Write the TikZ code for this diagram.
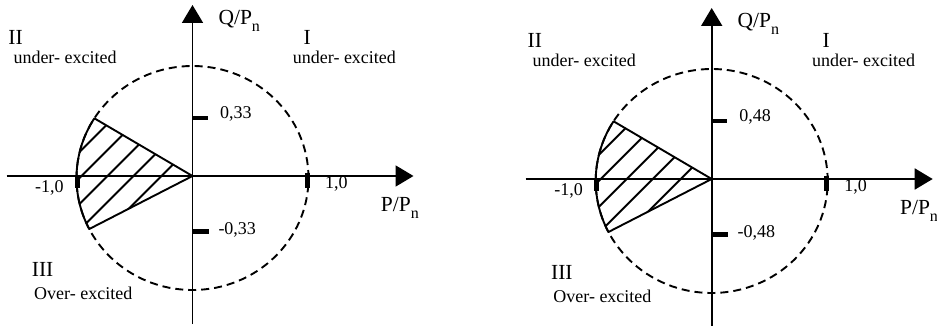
\documentclass[tikz,border=0pt]{standalone}
\usepackage{fontspec}
\setmainfont{Liberation Serif}
\usetikzlibrary{arrows.meta}

\tikzset{
  axis/.style={line width=1.9pt, -{Triangle[length=18pt,width=21pt]}},
  rim/.style={line width=1.9pt, dash pattern=on 8pt off 5pt},
  hatch/.style={line width=1.9pt},
  tickmark/.style={line width=4.5pt},
  lbl/.style={anchor=base west, inner sep=0pt, font=\fontsize{18}{20}\selectfont},
  quad/.style={anchor=base west, inner sep=0pt, font=\fontsize{21.5}{24}\selectfont}
}
\newcommand{\axlabel}[1]{#1/P\raisebox{-7pt}{\fontsize{16}{16}\selectfont n}}

\begin{document}
\begin{tikzpicture}[x=1pt, y=1pt]
  \useasboundingbox (0,0) rectangle (937,-326);
  \foreach \cx/\cy/\qa/\qb/\k in {192.5/-176/{0,33}/{-0,33}/a, 711.7/-179/{0,48}/{-0,48}/b}{
    \begin{scope}[shift={(\cx,\cy)}]
      % dashed unit circle
      \draw[rim] (0,-2) ellipse [x radius=116, y radius=112];
      % hatched sector
      \begin{scope}
        \clip (0,0) -- ([shift={(0,-2)}]147.8:116 and 112)
          arc[start angle=147.8, end angle=207.1, x radius=116, y radius=112] -- cycle;
        \foreach \c in {31,59,85,111,137}
          \draw[hatch] (-160,{\c-160}) -- (10,{\c+10});
      \end{scope}
      \draw[hatch, line join=round] (0,0) -- ([shift={(0,-2)}]147.8:116 and 112)
        arc[start angle=147.8, end angle=207.1, x radius=116, y radius=112] -- cycle;
      % axes
      \coordinate (o\k) at (0,0);
      \coordinate (w\k) at (-186,0);
      \coordinate (e\k) at (221,0);
      \coordinate (s\k) at (0,-148);
      \coordinate (n\k) at (0,171);
      \draw[axis] (w\k) -- (e\k);
      \draw[axis] (s\k) -- (n\k);
      % ticks
      \draw[tickmark] (0,58) -- (15,58);
      \draw[tickmark] (0,-55.7) -- (16,-55.7);
      \draw[line width=5pt] (-115,1) -- (-115,-12);
      \draw[line width=5pt] (115,3) -- (115,-12);
      % labels
      \node[lbl] (qa\k) at (27.5,57.7) {\qa};
      \node[lbl] (qb\k) at (25.8,-58.3) {\qb};
      \node[lbl] (pm\k) at (-157.5,-16.3) {-1,0};
      \node[lbl] (pp\k) at (132.5,-12.3) {1,0};
      \node[quad] (ql\k) at (25.8,151) {\axlabel{Q}};
      \node[quad] (pl\k) at (188.2,-35.7) {\axlabel{P}};
      \node[quad] (r2\k) at (-184.2,131.5) {II};
      \node[lbl] (u2\k) at (-179.2,112.2) {under- excited};
      \node[quad] (r1\k) at (110.8,131.5) {I};
      \node[lbl] (u1\k) at (100.2,112.2) {under- excited};
      \node[quad] (r3\k) at (-160.8,-100) {III};
      \node[lbl] (o3\k) at (-158.5,-123.3) {Over- excited};
    \end{scope}
  }
\end{tikzpicture}
\end{document}
